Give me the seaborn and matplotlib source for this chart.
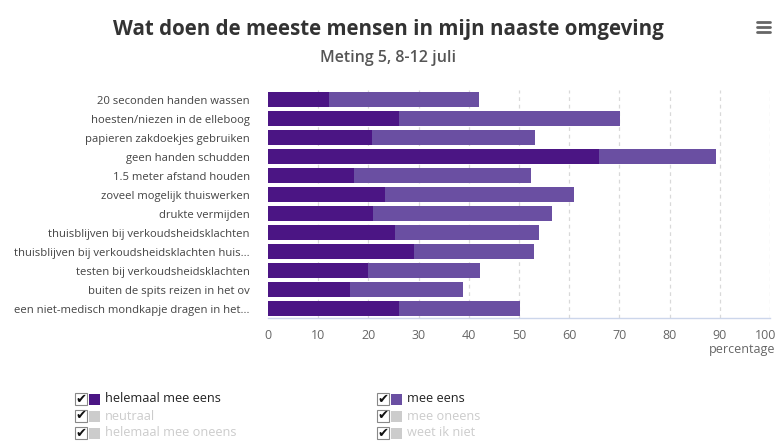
import matplotlib
matplotlib.use("Agg")
import matplotlib.pyplot as plt
import matplotlib.transforms as mtransforms
import seaborn as sns
import pandas as pd
from matplotlib.patches import Rectangle
from matplotlib.lines import Line2D

categories = [
    "20 seconden handen wassen",
    "hoesten/niezen in de elleboog",
    "papieren zakdoekjes gebruiken",
    "geen handen schudden",
    "1.5 meter afstand houden",
    "zoveel mogelijk thuiswerken",
    "drukte vermijden",
    "thuisblijven bij verkoudsheidsklachten",
    "thuisblijven bij verkoudsheidsklachten huis...",
    "testen bij verkoudsheidsklachten",
    "buiten de spits reizen in het ov",
    "een niet-medisch mondkapje dragen in het...",
]
helemaal_mee_eens = [12.2, 26.1, 20.7, 65.9, 17.2, 23.4, 20.9, 25.2, 29.0, 19.9, 16.4, 26.1]
mee_eens = [29.8, 44.0, 32.4, 23.3, 35.1, 37.6, 35.7, 28.8, 23.9, 22.3, 22.4, 24.1]
series_names = ["helemaal mee eens", "mee eens", "neutraal", "mee oneens",
                "helemaal mee oneens", "weet ik niet"]
x_ticks = [0, 10, 20, 30, 40, 50, 60, 70, 80, 90, 100]

DARK = "#4b1584"
LIGHT = "#6a4fa2"
GREY = "#cccccc"

sns.set_theme(style="white")
plt.rcParams["font.family"] = ["Open Sans", "DejaVu Sans"]

df = pd.DataFrame({"cat": categories, "a": helemaal_mee_eens, "b": mee_eens})
df["total"] = df["a"] + df["b"]

fig = plt.figure(figsize=(7.77, 4.41), dpi=100)
ax = fig.add_axes([268 / 777, 1 - 318 / 441, (770 - 268) / 777, (318 - 90) / 441])

sns.barplot(data=df, x="total", y="cat", color=LIGHT, orient="h", width=0.8,
            saturation=1, ax=ax, zorder=3)
sns.barplot(data=df, x="a", y="cat", color=DARK, orient="h", width=0.8,
            saturation=1, ax=ax, zorder=4)
for p in ax.patches:
    p.set_edgecolor("none")

ax.set_xlim(0, 100)
ax.set_ylim(len(categories) - 0.5, -0.5)
ax.set_xticks(x_ticks)
ax.set_xticklabels([str(t) for t in x_ticks], color="#666666", fontsize=9)
ax.tick_params(axis="x", length=0, pad=8)
ax.tick_params(axis="y", length=0, pad=13, labelsize=8.1, labelcolor="#444444")
last = ax.get_xticklabels()[-1]
last.set_horizontalalignment("right")
last.set_transform(last.get_transform() + mtransforms.ScaledTranslation(6 / 100, 0, fig.dpi_scale_trans))
for t in x_ticks[1:]:
    ax.axvline(t, color="#d9d9d9", lw=0.9, ls=(0, (3, 3)), zorder=1)
ax.set_xlabel("")
ax.set_ylabel("")
for s in ["top", "right", "left"]:
    ax.spines[s].set_visible(False)
ax.spines["bottom"].set_color("#ccd6eb")
ax.spines["bottom"].set_linewidth(1)
ax.spines["bottom"].set_zorder(5)
ax.text(1.01, -0.11, "percentage", transform=ax.transAxes, ha="right", va="top",
        fontsize=9, color="#666666")

fig.text(0.5, 1 - 29 / 441, "Wat doen de meeste mensen in mijn naaste omgeving",
         ha="center", va="center", fontsize=14.8, fontweight="bold", color="#333333")
fig.text(0.5, 1 - 58 / 441, "Meting 5, 8-12 juli", ha="center", va="center",
         fontsize=11.5, fontweight="semibold", color="#555555")

# hamburger icon
for yy in [22, 27, 32]:
    fig.add_artist(Line2D([757 / 777, 770 / 777], [1 - yy / 441] * 2, color="#666666", lw=2))

# legend
W, H = 777, 441
legend_pos = [(75, 399), (377, 399), (75, 416), (377, 416), (75, 433), (377, 433)]
for i, name in enumerate(series_names):
    x0, y0 = legend_pos[i]
    active = i < 2
    col = [DARK, LIGHT][i] if active else GREY
    fig.add_artist(Rectangle((x0 / W, 1 - (y0 + 6) / H), 12 / W, 12 / H,
                             facecolor="white", edgecolor="#888888", lw=0.8))
    fig.text((x0 + 6) / W, 1 - y0 / H, "\u2714", ha="center", va="center",
             fontsize=9.5, color="#111111", family="DejaVu Sans")
    fig.add_artist(Rectangle(((x0 + 14) / W, 1 - (y0 + 5.5) / H), 11 / W, 11 / H,
                             facecolor=col, edgecolor="none"))
    fig.text((x0 + 30) / W, 1 - y0 / H, name, ha="left", va="center", fontsize=9.2,
             color="#222222" if active else "#cccccc")

fig.savefig("out.png", dpi=100)
